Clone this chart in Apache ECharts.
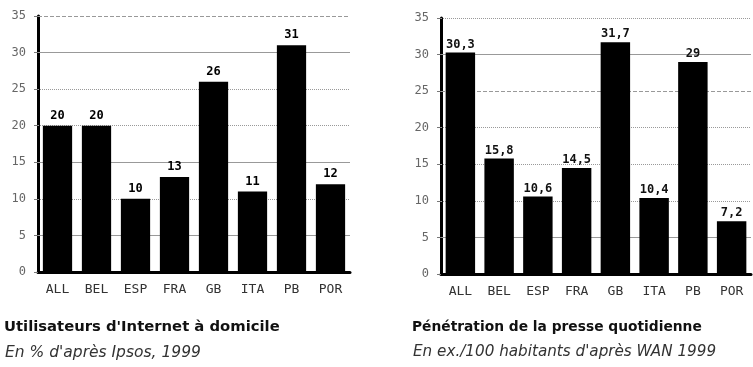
<!DOCTYPE html>
<html>
<head>
<meta charset="utf-8">
<script src="https://cdn.jsdelivr.net/npm/echarts@6/dist/echarts.min.js"></script>
<style>html,body{margin:0;padding:0;background:#fff;}#c{width:753px;height:367px;}</style>
</head>
<body>
<div id="c"></div>
<script>
const categories = ['ALL', 'BEL', 'ESP', 'FRA', 'GB', 'ITA', 'PB', 'POR'];
const internetValues = [20, 20, 10, 13, 26, 11, 31, 12];
const presseValues = [30.3, 15.8, 10.6, 14.5, 31.7, 10.4, 29, 7.2];
const gridValues = [5, 10, 15, 20, 25, 30, 35];
const leftTitle = "Utilisateurs d'Internet à domicile";
const leftSubtitle = "En % d'après Ipsos, 1999";
const rightTitle = 'Pénétration de la presse quotidienne';
const rightSubtitle = "En ex./100 habitants d'après WAN 1999";

// line style of each horizontal guide line, by value
const leftGridTypes = {5: 'solid', 10: 'dotted', 15: 'solid', 20: 'dotted', 25: 'dotted', 30: 'solid', 35: 'dashed'};
const rightGridTypes = {5: 'solid', 10: 'dotted', 15: 'dotted', 20: 'dotted', 25: 'dashed', 30: 'solid', 35: 'dotted'};

const chart = echarts.init(document.getElementById('c'));
const mono = 'DejaVu Sans Mono';

function xAxis(gi) {
  return {
    type: 'category', gridIndex: gi, data: categories,
    axisLine: {show: true, lineStyle: {color: '#000', width: 3}},
    axisTick: {show: false},
    axisLabel: {color: '#333', fontFamily: mono, fontSize: 13, margin: 11}
  };
}
function yAxis(gi) {
  return {
    type: 'value', gridIndex: gi, min: 0, max: 35, interval: 5,
    axisLine: {show: true, lineStyle: {color: '#000', width: 3}},
    axisTick: {show: true, length: 4, lineStyle: {color: '#777', width: 1}},
    axisLabel: {color: '#666', fontFamily: mono, fontSize: 12, margin: 12},
    splitLine: {show: false}
  };
}
function guides(gi, types) {
  return {
    type: 'line', xAxisIndex: gi, yAxisIndex: gi, data: [], silent: true, z: 1,
    markLine: {
      silent: true, symbol: 'none', z: 1, label: {show: false}, animation: false,
      data: gridValues.map(v => ({yAxis: v, lineStyle: {color: '#999', width: 1, type: types[v]}}))
    }
  };
}

chart.setOption({
  animation: false,
  backgroundColor: '#fff',
  grid: [
    {left: 38, top: 16, width: 312, height: 256},
    {left: 441, top: 18, width: 310, height: 256}
  ],
  xAxis: [xAxis(0), xAxis(1)],
  yAxis: [yAxis(0), yAxis(1)],
  title: [
    {text: leftTitle, left: 4, top: 320, padding: 0,
     textStyle: {fontFamily: 'DejaVu Sans', fontWeight: 'bold', fontSize: 14.8, color: '#111'}},
    {text: leftSubtitle, left: 5, top: 345, padding: 0,
     textStyle: {fontFamily: 'DejaVu Sans', fontStyle: 'italic', fontWeight: 'normal', fontSize: 15.5, color: '#333'}},
    {text: rightTitle, left: 412, top: 320, padding: 0,
     textStyle: {fontFamily: 'DejaVu Sans', fontWeight: 'bold', fontSize: 13.8, color: '#111'}},
    {text: rightSubtitle, left: 413, top: 345, padding: 0,
     textStyle: {fontFamily: 'DejaVu Sans', fontStyle: 'italic', fontWeight: 'normal', fontSize: 15.2, color: '#333'}}
  ],
  series: [
    guides(0, leftGridTypes),
    guides(1, rightGridTypes),
    {
      type: 'bar', xAxisIndex: 0, yAxisIndex: 0, data: internetValues, z: 3,
      barCategoryGap: '25%',
      itemStyle: {color: '#000'},
      label: {show: true, position: 'top', distance: 4, color: '#000', fontFamily: mono,
              fontWeight: 'bold', fontSize: 12}
    },
    {
      type: 'bar', xAxisIndex: 1, yAxisIndex: 1, data: presseValues, z: 3,
      barCategoryGap: '24%',
      itemStyle: {color: '#000'},
      label: {show: true, position: 'top', distance: 2, color: '#111', fontFamily: mono,
              fontWeight: 'bold', fontSize: 12,
              formatter: p => String(p.value).replace('.', ',')}
    }
  ]
});
</script>
</body>
</html>
